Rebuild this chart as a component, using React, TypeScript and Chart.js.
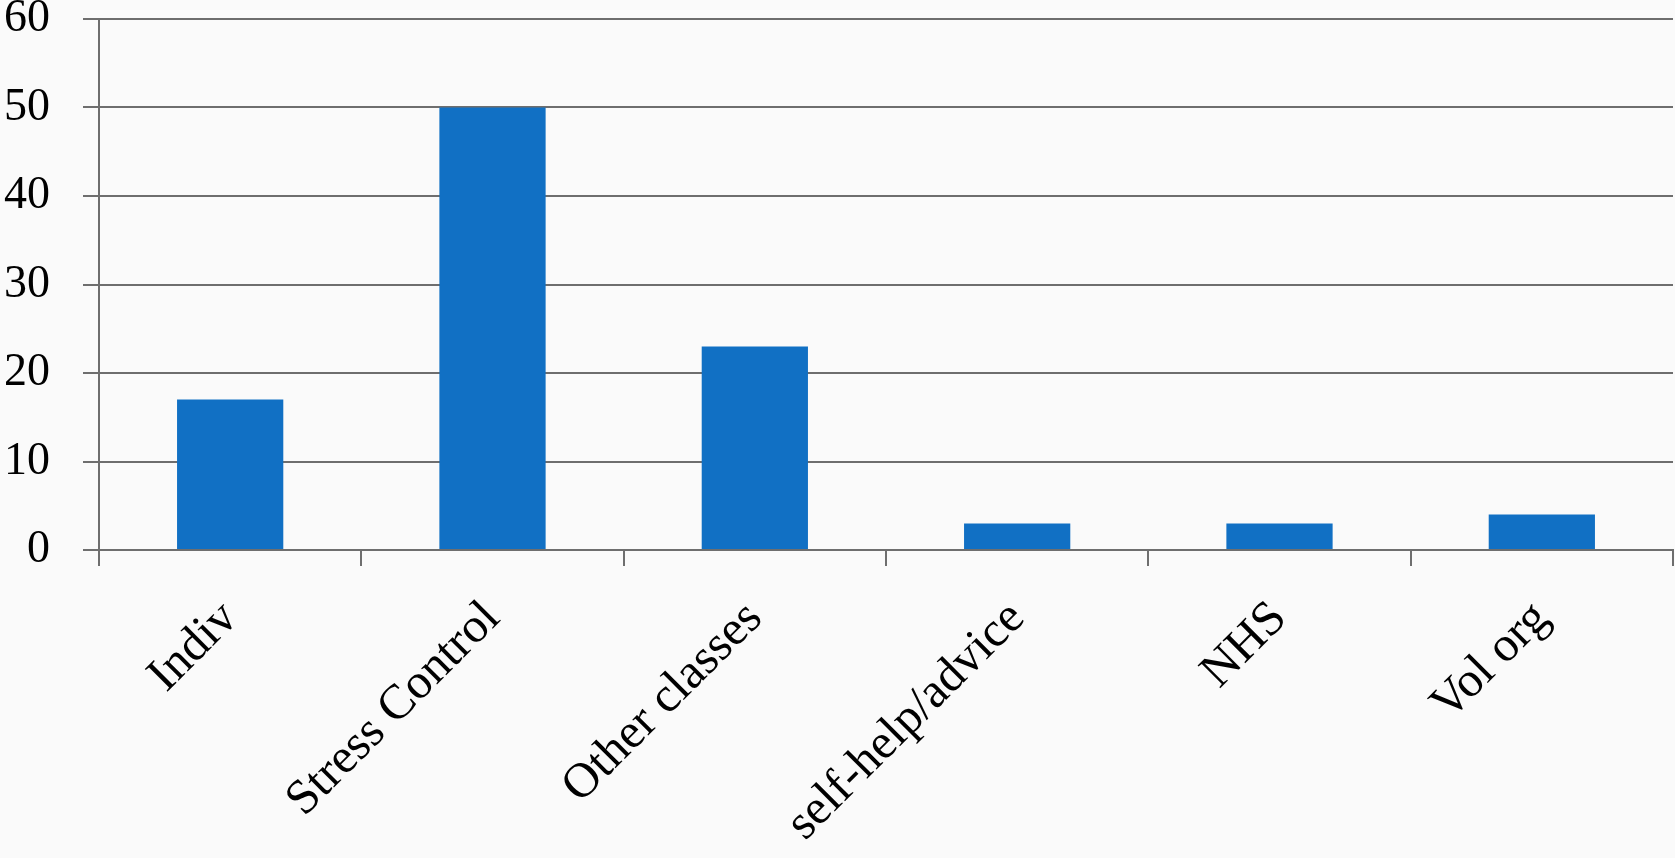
import React, { useEffect, useRef } from "react";
import { Chart, registerables } from "chart.js";

Chart.register(...registerables);

// Referral routes and number of people on each
const categories = ["Indiv", "Stress Control", "Other classes", "self-help/advice", "NHS", "Vol org"];
const counts = [17, 50, 23, 3, 3, 4];
const yTickValues = [0, 10, 20, 30, 40, 50, 60];

const WIDTH = 1675;
const HEIGHT = 858;
const AXIS_GREY = "#6e6e6e";
const BAR_BLUE = "#1170c4";
const FONT = "'Liberation Serif', 'DejaVu Serif', serif";

const paintBackground = {
  id: "paintBackground",
  beforeDraw(chart: Chart) {
    const { ctx } = chart;
    ctx.save();
    ctx.fillStyle = "#fafafa";
    ctx.fillRect(0, 0, chart.width, chart.height);
    ctx.restore();
  },
};

export default function App() {
  const canvasRef = useRef<HTMLCanvasElement | null>(null);

  useEffect(() => {
    document.body.style.margin = "0";
    const canvas = canvasRef.current;
    if (!canvas) return;

    const chart = new Chart(canvas, {
      type: "bar",
      data: {
        labels: categories,
        datasets: [
          {
            data: counts,
            backgroundColor: BAR_BLUE,
            borderWidth: 0,
            barPercentage: 1,
            categoryPercentage: 0.405,
          },
        ],
      },
      options: {
        responsive: false,
        animation: false,
        events: [],
        layout: { padding: { top: 19, right: 2, left: 0, bottom: 0 } },
        plugins: {
          legend: { display: false },
          tooltip: { enabled: false },
          title: { display: false },
        },
        scales: {
          x: {
            offset: true,
            grid: {
              offset: true,
              drawOnChartArea: false,
              drawTicks: true,
              tickLength: 16,
              color: AXIS_GREY,
              lineWidth: 2,
            },
            border: { display: true, color: AXIS_GREY, width: 2 },
            ticks: {
              autoSkip: false,
              minRotation: 45,
              maxRotation: 45,
              padding: 24,
              color: "#000",
              font: { family: FONT, size: 49 },
            },
            afterFit(scale: any) {
              scale.height = 308;
              scale.paddingLeft = 0;
              scale.paddingRight = 0;
            },
          },
          y: {
            min: 0,
            max: 60,
            afterBuildTicks(scale: any) {
              scale.ticks = yTickValues.map((v) => ({ value: v }));
            },
            grid: {
              drawTicks: true,
              tickLength: 16,
              color: AXIS_GREY,
              lineWidth: 2,
            },
            border: { display: true, color: AXIS_GREY, width: 2 },
            ticks: {
              padding: 33,
              color: "#000",
              font: { family: FONT, size: 46 },
            },
            afterFit(scale: any) {
              scale.width = 99;
              scale.paddingTop = 0;
              scale.paddingBottom = 0;
            },
          },
        },
      },
      plugins: [paintBackground],
    });

    return () => chart.destroy();
  }, []);

  return (
    <div style={{ width: WIDTH, height: HEIGHT }}>
      <canvas ref={canvasRef} width={WIDTH} height={HEIGHT} style={{ display: "block" }} />
    </div>
  );
}
